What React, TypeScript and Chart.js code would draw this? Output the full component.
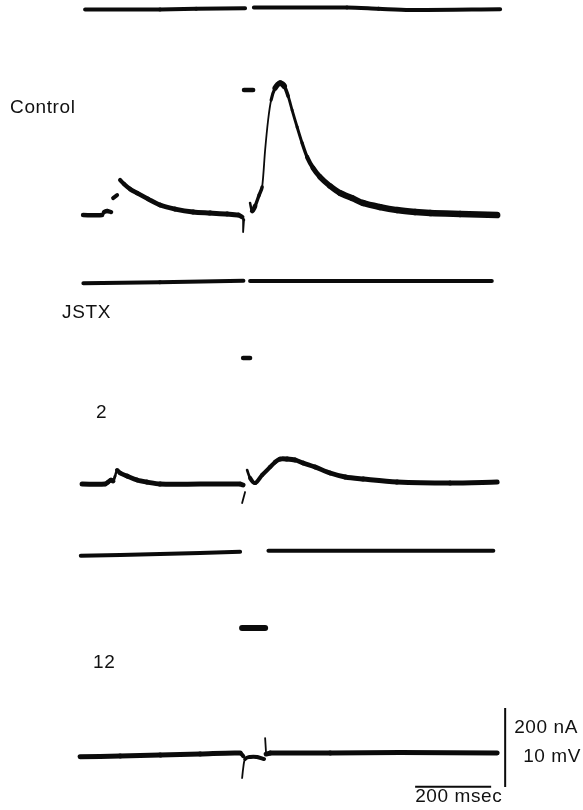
import React, { useEffect, useRef } from "react";
import { Chart, registerables } from "chart.js";

Chart.register(...registerables);

// ---- page / axes (time in ms, vertical in mV units; 200 nA shown as 10 mV) ----
const CANVAS_W = 583;
const CANVAS_H = 810;
const T_MIN = -216;
const T_MAX = 1318;
const Y_MIN = -102.53;
const Y_MAX = 0;
const MV_PER_NA = 10 / 200;

// panel baselines (mV units on the page)
const currentBase = [-1.14, -35.7, -69.75];
const voltageBase = [-27.22, -61.27, -95.32];

// ---- Control: membrane current (nA) ----
const controlI_pre = [[7.9, -1.3], [205, -1.0], [300, 0.5], [428.9, 1.8]];
const controlI_pulse = [[426, -205], [450, -205]];
const controlI_post = [[452, 3.8], [697, 3.8], [780, 0.5], [863, -2.5], [1100, -0.8]];

// ---- Control: membrane potential (mV) ----
const controlV_a = [[2.6, 0], [52.6, 0], [57.9, 0.38], [65.8, 0.51], [76.3, 0.38]];
const controlV_b = [[81.6, 2.15], [92.1, 2.53]];
const controlV_c = [[100, 4.43], [110.5, 3.92], [126.3, 3.29], [144.7, 2.78], [173.7, 2.03], [205.3, 1.27], [244.7, 0.76], [292.1, 0.38], [336.8, 0.25], [381.6, 0.13], [410.5, 0], [421, -0.25]];
const controlV_art = [[421, -0.25], [426, -0.63], [423.7, -2.15]];
const controlV_ap = [[442, 1.52], [447.4, 0.51], [455.3, 1.14], [465.8, 2.53], [473.7, 3.54], [481.6, 8.23], [489.5, 12.03], [497.4, 14.56], [507.9, 16.08], [521.1, 16.71], [531.6, 16.33], [542.1, 15.06], [552.6, 13.29], [565.8, 11.14], [578.9, 9.11], [592.1, 7.34], [607.9, 5.95], [626.3, 4.81], [652.6, 3.67], [678.9, 2.78], [710.5, 2.15], [739.5, 1.52], [784.2, 1.01], [828.9, 0.63], [876.3, 0.38], [915.8, 0.25], [994.7, 0.13], [1092.1, 0]];

// ---- JSTX 2 min: current (nA) ----
const jstx2I_pre = [[3.4, -3.3], [205, -0.8], [424.5, 3.3]];
const jstx2I_pulse = [[423.7, -192], [442, -192]];
const jstx2I_post = [[442, 2.5], [1078, 2.5]];

// ---- JSTX 2 min: potential (mV) ----
const jstx2V_a = [[0, 0], [60.5, 0], [68.4, 0.25], [76.3, 0.51], [81.6, 0.38], [86.8, 1.01], [92.1, 1.77], [100, 1.39], [118.4, 1.01], [144.7, 0.51], [171.1, 0.25], [205.3, 0], [310.5, 0], [415.8, 0], [423.7, -0.13]];
const jstx2V_art = [[428.9, -1.01], [421.1, -2.41]];
const jstx2V_b = [[434.2, 1.77], [442.1, 0.76], [455.3, 0.13], [473.7, 1.14], [494.7, 2.15], [507.9, 2.78], [521.1, 3.16], [539.5, 3.16], [560.5, 3.04], [581.6, 2.66], [613.2, 2.15], [652.6, 1.39], [692.1, 0.89], [739.5, 0.63], [828.9, 0.25], [968.4, 0.13], [1092.1, 0.25]];

// ---- JSTX 12 min: current (nA) ----
const jstx12I_pre = [[-3.4, -11.9], [205, -7.6], [415.8, -1.8]];
const jstx12I_pulse = [[421, -195], [481.6, -195]];
const jstx12I_post = [[490.3, 0.8], [1082, 0.8]];

// ---- JSTX 12 min: potential (mV) ----
const jstx12V_a = [[-5.3, -0.47], [100, -0.38], [205.3, -0.25], [310.5, -0.13], [415.8, 0], [423.7, -0.38]];
const jstx12V_art = [[421.1, -3.16], [423.7, -2.0], [428.9, -0.76], [442, -0.5], [460, -0.5], [478.9, -0.76]];
const jstx12V_b = [[481.6, 1.9], [484.2, -0.13], [494.7, 0], [652.6, 0], [836.8, 0.06], [1092.1, 0]];

// ---- calibration bars ----
const timeBar = [[876.3, -99.58], [1076.3, -99.58]]; // 200 msec
const voltBar = [[1113.2, -89.62], [1113.2, -99.62]]; // 10 mV / 200 nA

// ---- text labels ----
const labelTexts = ["Control", "JSTX", "2", "12", "200 nA", "10 mV", "200 msec"];
const labelT = [-189.5, -52.6, 36.8, 28.9, 1136.8, 1160.5, 876.3];
const labelY = [-14.3, -40.25, -52.91, -84.56, -92.78, -96.46, -101.52];

const INK = "#0b0b0b";

function slopeWidth(base: number, minW: number) {
  return (ctx: any) => {
    const a = ctx.p0, b = ctx.p1;
    const dx = Math.abs(b.x - a.x);
    const dy = Math.abs(b.y - a.y);
    const s = dy / Math.max(dx, 0.3);
    return Math.max(minW, base / (1 + 0.2 * Math.pow(s, 1.5)));
  };
}

function trace(points: number[][], offset: number, scale: number, width: number, tension = 0.3) {
  return {
    data: points.map(([t, v]) => ({ x: t, y: offset + v * scale })),
    showLine: true,
    borderColor: INK,
    backgroundColor: INK,
    borderWidth: width,
    pointRadius: 0,
    pointHoverRadius: 0,
    tension,
    borderCapStyle: "round",
    borderJoinStyle: "round",
    clip: false,
    segment: { borderWidth: slopeWidth(width, 1.8) },
  };
}

function bar(points: number[][], width: number) {
  return {
    data: points.map(([t, v]) => ({ x: t, y: v })),
    showLine: true,
    borderColor: INK,
    borderWidth: width,
    pointRadius: 0,
    tension: 0,
    borderCapStyle: "butt",
    clip: false,
  };
}

const labelPlugin = {
  id: "traceLabels",
  afterDatasetsDraw(chart: any) {
    const ctx = chart.ctx;
    const xs = chart.scales.x;
    const ys = chart.scales.y;
    ctx.save();
    ctx.fillStyle = "#111";
    ctx.font = '19px "Liberation Sans", Arial, Helvetica, sans-serif';
    ctx.textBaseline = "alphabetic";
    ctx.textAlign = "left";
    (ctx as any).letterSpacing = "0.6px";
    labelTexts.forEach((txt, i) => {
      ctx.fillText(txt, xs.getPixelForValue(labelT[i]), ys.getPixelForValue(labelY[i]));
    });
    ctx.restore();
  },
};

export default function App() {
  const ref = useRef<HTMLCanvasElement | null>(null);

  useEffect(() => {
    if (!ref.current) return;
    const iS = MV_PER_NA;
    const datasets: any[] = [
      // Control
      trace(controlI_pre, currentBase[0], iS, 4, 0),
      trace(controlI_pulse, currentBase[0], iS, 4.5, 0),
      trace(controlI_post, currentBase[0], iS, 4, 0.3),
      trace(controlV_a, voltageBase[0], 1, 4.5, 0.2),
      trace(controlV_b, voltageBase[0], 1, 4.5, 0),
      trace(controlV_c, voltageBase[0], 1, 5, 0.3),
      trace(controlV_art, voltageBase[0], 1, 3.5, 0),
      trace(controlV_ap, voltageBase[0], 1, 6.5, 0.3),
      // JSTX 2
      trace(jstx2I_pre, currentBase[1], iS, 4, 0),
      trace(jstx2I_pulse, currentBase[1], iS, 4.5, 0),
      trace(jstx2I_post, currentBase[1], iS, 4, 0),
      trace(jstx2V_a, voltageBase[1], 1, 5, 0.3),
      trace(jstx2V_art, voltageBase[1], 1, 3.5, 0),
      trace(jstx2V_b, voltageBase[1], 1, 5, 0.3),
      // JSTX 12
      trace(jstx12I_pre, currentBase[2], iS, 4, 0.3),
      trace(jstx12I_pulse, currentBase[2], iS, 6, 0),
      trace(jstx12I_post, currentBase[2], iS, 4, 0),
      trace(jstx12V_a, voltageBase[2], 1, 5, 0.3),
      trace(jstx12V_art, voltageBase[2], 1, 4, 0.3),
      trace(jstx12V_b, voltageBase[2], 1, 5, 0),
      // calibration
      bar(timeBar, 2),
      bar(voltBar, 2),
    ];

    const chart = new Chart(ref.current, {
      type: "scatter",
      data: { datasets },
      options: {
        responsive: false,
        animation: false,
        devicePixelRatio: 1,
        events: [],
        layout: { padding: 0 },
        plugins: { legend: { display: false }, tooltip: { enabled: false } },
        scales: {
          x: { type: "linear", min: T_MIN, max: T_MAX, display: false },
          y: { type: "linear", min: Y_MIN, max: Y_MAX, display: false },
        },
      },
      plugins: [labelPlugin],
    } as any);

    return () => chart.destroy();
  }, []);

  return (
    <div style={{ position: "absolute", left: 0, top: 0, width: CANVAS_W, height: CANVAS_H, background: "#fff" }}>
      <canvas ref={ref} width={CANVAS_W} height={CANVAS_H} style={{ display: "block" }} />
    </div>
  );
}
